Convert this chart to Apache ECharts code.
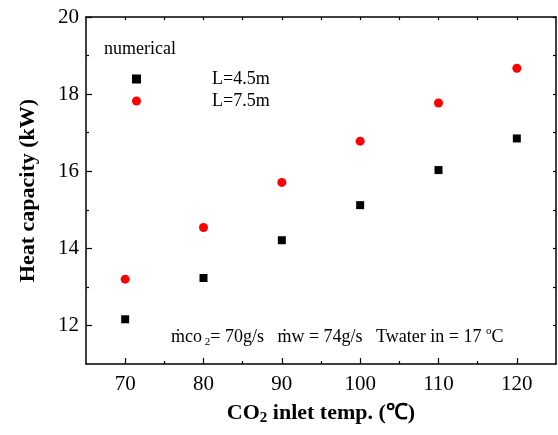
<!DOCTYPE html>
<html>
<head>
<meta charset="utf-8">
<script src="https://cdn.jsdelivr.net/npm/echarts@6/dist/echarts.min.js"></script>
<style>
  html, body { margin: 0; padding: 0; background: #fff; }
  #chart { width: 558px; height: 435px; }
</style>
</head>
<body>
<div id="chart"></div>
<script>
const temps = [70, 80, 90, 100, 110, 120]
const cap45 = [12.16, 13.23, 14.21, 15.12, 16.03, 16.85]
const cap75 = [13.20, 14.54, 15.71, 16.78, 17.77, 18.67]
const xMajor = [70, 80, 90, 100, 110, 120]
const xMinor = [75, 85, 95, 105, 115]
const yMajor = [12, 14, 16, 18, 20]
const yMinor = [13, 15, 17, 19]

const font = 'Liberation Serif'
const myChart = echarts.init(document.querySelector('#chart'))

const lineStyle = { color: '#000', width: 1.5 }

function frameAxis(pos, min, max, values, len) {
  return {
    type: 'value', position: pos, min, max,
    axisLine: { show: pos === 'top' || pos === 'right', onZero: false, lineStyle },
    axisTick: { show: true, inside: true, length: len, customValues: values, lineStyle: { color: '#000', width: 1.2 } },
    axisLabel: { show: false },
    splitLine: { show: false }
  }
}

const plain = { fontFamily: font, color: '#000', fontWeight: 'normal' }

myChart.setOption({
  backgroundColor: '#fff',
  animation: false,
  title: [
    {
      text: 'numerical', left: 99, top: 35,
      textStyle: { fontFamily: font, fontSize: 18, fontWeight: 'normal', color: '#000' }
    },
    {
      text: '{a|ṁco}{s| 2}{a|= 70g/s   ṁw = 74g/s   Twater in = 17 }{o|o}{a|C}',
      left: 166, top: 321,
      textStyle: {
        fontWeight: 'normal',
        rich: {
          a: { ...plain, fontSize: 18, lineHeight: 22, verticalAlign: 'middle' },
          s: { ...plain, fontSize: 11, verticalAlign: 'bottom' },
          o: { ...plain, fontSize: 11, verticalAlign: 'top' }
        }
      }
    }
  ],
  legend: {
    orient: 'vertical', left: 127, top: 65,
    itemWidth: 9, itemHeight: 9, itemGap: 4,
    data: ['L=4.5m', 'L=7.5m'],
    textStyle: { fontFamily: font, fontSize: 18, color: '#000', padding: [0, 0, 0, 66] }
  },
  grid: { left: 86, right: 2, top: 17, bottom: 71, containLabel: false },
  xAxis: [
    {
      type: 'value', min: 65, max: 125, position: 'bottom',
      name: '{b|CO}{s|2}{b| inlet temp. (℃)}', nameLocation: 'middle', nameGap: 36,
      nameTextStyle: {
        rich: {
          b: { fontFamily: font, fontSize: 22, fontWeight: 'bold', color: '#000', verticalAlign: 'middle', lineHeight: 26 },
          s: { fontFamily: font, fontSize: 15, fontWeight: 'bold', color: '#000', verticalAlign: 'bottom' }
        }
      },
      axisLine: { onZero: false, lineStyle },
      axisTick: { inside: true, length: 6, customValues: xMajor, lineStyle: { color: '#000', width: 1.2 } },
      axisLabel: { customValues: xMajor, fontFamily: font, fontSize: 21, color: '#000', margin: 10 },
      splitLine: { show: false }
    },
    frameAxis('bottom', 65, 125, xMinor, 3),
    frameAxis('top', 65, 125, xMajor.concat(xMinor), 3)
  ],
  yAxis: [
    {
      type: 'value', min: 11, max: 20, position: 'left',
      name: 'Heat capacity (kW)', nameLocation: 'middle', nameGap: 47,
      nameTextStyle: { fontFamily: font, fontSize: 22, fontWeight: 'bold', color: '#000' },
      axisLine: { onZero: false, lineStyle },
      axisTick: { inside: true, length: 6, customValues: yMajor, lineStyle: { color: '#000', width: 1.2 } },
      axisLabel: { customValues: yMajor, fontFamily: font, fontSize: 21, color: '#000', margin: 7 },
      splitLine: { show: false }
    },
    frameAxis('left', 11, 20, yMinor, 3),
    frameAxis('right', 11, 20, yMajor.concat(yMinor), 3)
  ],
  series: [
    {
      name: 'L=4.5m', type: 'scatter', symbol: 'rect', symbolSize: 8,
      itemStyle: { color: '#000', opacity: 1 },
      data: temps.map((t, i) => [t, cap45[i]])
    },
    {
      name: 'L=7.5m', type: 'scatter', symbol: 'circle', symbolSize: 9,
      itemStyle: { color: '#ff0000', opacity: 1 },
      data: temps.map((t, i) => [t, cap75[i]])
    }
  ]
})
</script>
</body>
</html>
